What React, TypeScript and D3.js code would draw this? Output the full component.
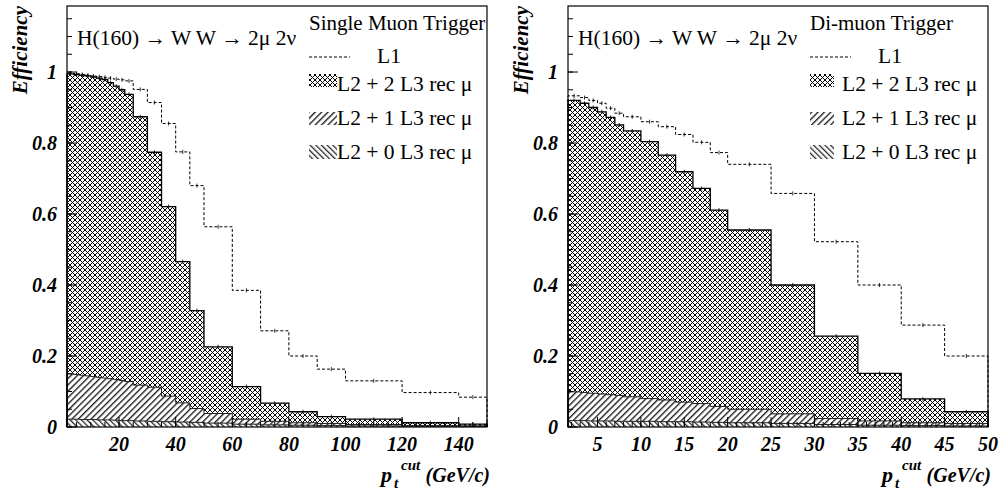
import React from "react";
import * as d3 from "d3";

// ---------- data ----------
const leftEdges = [1.6, 4, 6, 8, 10, 12, 14, 16, 18, 20, 22, 25, 30, 35, 40, 45, 50, 60, 70, 80, 90, 100, 120, 140, 150];
const leftL1 = [0.997, 0.995, 0.993, 0.991, 0.989, 0.987, 0.985, 0.983, 0.98, 0.978, 0.975, 0.951, 0.914, 0.855, 0.775, 0.68, 0.564, 0.385, 0.271, 0.2, 0.163, 0.13, 0.097, 0.084];
const leftL2L3x2 = [0.995, 0.993, 0.991, 0.989, 0.986, 0.983, 0.979, 0.97, 0.96, 0.95, 0.937, 0.874, 0.774, 0.621, 0.466, 0.328, 0.226, 0.114, 0.067, 0.043, 0.029, 0.022, 0.012, 0.008];
const leftL2L3x1 = [0.15, 0.148, 0.146, 0.144, 0.142, 0.14, 0.138, 0.136, 0.134, 0.131, 0.128, 0.118, 0.112, 0.087, 0.068, 0.052, 0.038, 0.022, 0.016, 0.012, 0.01, 0.007, 0.004, 0.003];
const leftL2L3x0 = [0.022, 0.022, 0.021, 0.021, 0.021, 0.02, 0.02, 0.02, 0.019, 0.018, 0.018, 0.017, 0.016, 0.015, 0.014, 0.013, 0.011, 0.008, 0.006, 0.005, 0.004, 0.003, 0.002, 0.002];

const rightEdges = [1.6, 3, 4, 5, 6, 7, 8, 10, 12, 14, 16, 18, 20, 25, 30, 35, 40, 45, 50];
const rightL1 = [0.933, 0.928, 0.92, 0.912, 0.898, 0.884, 0.874, 0.86, 0.846, 0.824, 0.802, 0.773, 0.74, 0.658, 0.522, 0.4, 0.287, 0.2];
const rightL2L3x2 = [0.92, 0.912, 0.9, 0.888, 0.872, 0.851, 0.834, 0.804, 0.766, 0.719, 0.672, 0.611, 0.555, 0.4, 0.256, 0.151, 0.079, 0.043];
const rightL2L3x1 = [0.099, 0.097, 0.095, 0.093, 0.091, 0.089, 0.085, 0.08, 0.076, 0.07, 0.066, 0.058, 0.05, 0.037, 0.024, 0.017, 0.012, 0.01];
const rightL2L3x0 = [0.018, 0.018, 0.017, 0.017, 0.017, 0.016, 0.016, 0.016, 0.015, 0.015, 0.014, 0.013, 0.012, 0.01, 0.007, 0.005, 0.004, 0.003];

const leftXTicks = [20, 40, 60, 80, 100, 120, 140];
const rightXTicks = [5, 10, 15, 20, 25, 30, 35, 40, 45, 50];
const yTicks = [0, 0.2, 0.4, 0.6, 0.8, 1];
const yTickLabels = ["0", "0.2", "0.4", "0.6", "0.8", "1"];

const processLabel = "H(160) \u2192 W W \u2192 2\u03bc 2\u03bd";
const legendLabels = ["L1", "L2 + 2 L3 rec \u03bc", "L2 + 1 L3 rec \u03bc", "L2 + 0 L3 rec \u03bc"];

// ---------- helpers ----------
const SERIF = "'Liberation Serif', 'Times New Roman', Times, serif";

function stepPath(edges: number[], vals: number[], x: any, y: any, close: boolean) {
  let d = `M${x(edges[0])},${y(0)}`;
  for (let i = 0; i < vals.length; i++) {
    d += `L${x(edges[i])},${y(vals[i])}L${x(edges[i + 1])},${y(vals[i])}`;
  }
  d += `L${x(edges[edges.length - 1])},${y(0)}`;
  if (close) d += "Z";
  return d;
}

type PanelProps = {
  ox: number;
  edges: number[];
  l1: number[];
  h2: number[];
  h1: number[];
  h0: number[];
  xTicks: number[];
  xMinor: number;
  title: string;
  boxW: number;
  textX: number;
};

function Panel({ ox, edges, l1, h2, h1, h0, xTicks, xMinor, title, boxW, textX }: PanelProps) {
  const x0 = 67 + ox;
  const x1 = 487 + ox;
  const top = 6;
  const bottom = 427;
  const x = d3.scaleLinear().domain([edges[0], edges[edges.length - 1]]).range([x0, x1]);
  const y = d3.scaleLinear().domain([0, 1.186]).range([bottom, top]);

  const xMinorTicks = d3.range(Math.ceil(edges[0] / xMinor) * xMinor, edges[edges.length - 1] + 1e-9, xMinor);
  const yMinorTicks = d3.range(0, 1.186, 0.05);

  const centers = edges.slice(0, -1).map((e, i) => (e + edges[i + 1]) / 2);

  const lx = 309 + ox;
  const tx = textX + ox;
  return (
    <g>
      {/* filled histograms */}
      <path d={stepPath(edges, h2, x, y, true)} fill="url(#crossHatch)" stroke="none" />
      <path d={stepPath(edges, h1, x, y, true)} fill="url(#fwdHatch)" stroke="none" />
      <path d={stepPath(edges, h0, x, y, true)} fill="url(#backHatch)" stroke="none" />
      <path d={stepPath(edges, h0, x, y, false)} fill="none" stroke="#222" strokeWidth={1} />
      <path d={stepPath(edges, h1, x, y, false)} fill="none" stroke="#222" strokeWidth={1} />
      <path d={stepPath(edges, h2, x, y, false)} fill="none" stroke="#000" strokeWidth={1.3} />
      {centers.map((c, i) => (
        <line key={"e2" + i} x1={x(c)} x2={x(c)} y1={y(h2[i]) - 2} y2={y(h2[i]) + 2} stroke="#000" strokeWidth={0.8} />
      ))}
      {/* L1 dashed */}
      <path d={stepPath(edges, l1, x, y, false)} fill="none" stroke="#000" strokeWidth={1} strokeDasharray="3,2" />
      {centers.map((c, i) => (
        <line key={"e1" + i} x1={x(c)} x2={x(c)} y1={y(l1[i]) - 2} y2={y(l1[i]) + 2} stroke="#000" strokeWidth={0.8} />
      ))}

      {/* frame */}
      <rect x={x0} y={top} width={x1 - x0} height={bottom - top} fill="none" stroke="#000" strokeWidth={1.2} />

      {/* y ticks */}
      {yMinorTicks.map((t, i) => (
        <line key={"ym" + i} x1={x0} x2={x0 + 5} y1={y(t)} y2={y(t)} stroke="#000" strokeWidth={1} />
      ))}
      {yTicks.map((t, i) => (
        <g key={"y" + i}>
          <line x1={x0} x2={x0 + 10} y1={y(t)} y2={y(t)} stroke="#000" strokeWidth={1} />
          <text x={x0 - 10} y={y(t) + 7} textAnchor="end" fontFamily={SERIF} fontWeight="bold" fontStyle="italic" fontSize={20}>
            {yTickLabels[i]}
          </text>
        </g>
      ))}
      {/* x ticks */}
      {xMinorTicks.map((t, i) => (
        <line key={"xm" + i} x1={x(t)} x2={x(t)} y1={bottom} y2={bottom - 5} stroke="#000" strokeWidth={1} />
      ))}
      {xTicks.map((t, i) => (
        <g key={"x" + i}>
          <line x1={x(t)} x2={x(t)} y1={bottom} y2={bottom - 10} stroke="#000" strokeWidth={1} />
          <text x={x(t)} y={451} textAnchor="middle" fontFamily={SERIF} fontWeight="bold" fontStyle="italic" fontSize={20}>
            {t}
          </text>
        </g>
      ))}

      {/* axis titles */}
      <text transform={`translate(${27 + ox},6) rotate(-90)`} textAnchor="end" fontFamily={SERIF} fontWeight="bold" fontStyle="italic" fontSize={21}>
        Efficiency
      </text>
      <g fontFamily={SERIF} fontWeight="bold" fontStyle="italic">
        <text x={381 + ox} y={482} fontSize={22}>p</text>
        <text x={394 + ox} y={488} fontSize={15}>t</text>
        <text x={401 + ox} y={470} fontSize={15}>cut</text>
        <text x={490 + ox} y={482} fontSize={20} textAnchor="end">(GeV/c)</text>
      </g>

      {/* labels */}
      <text x={77 + ox} y={45} fontFamily={SERIF} fontSize={21.5}>{processLabel}</text>
      <text x={lx} y={30} fontFamily={SERIF} fontSize={21}>{title}</text>
      <line x1={lx} x2={lx + 41} y1={57} y2={57} stroke="#000" strokeWidth={1} strokeDasharray="3,2" />
      <text x={377 + ox} y={63} fontFamily={SERIF} fontSize={21.5}>{legendLabels[0]}</text>
      <rect x={lx} y={74} width={boxW} height={13} fill="url(#crossHatch)" />
      <text x={tx} y={90.5} fontFamily={SERIF} fontSize={21.5}>{legendLabels[1]}</text>
      <rect x={lx} y={112} width={boxW} height={13} fill="url(#fwdHatch)" />
      <text x={tx} y={124.5} fontFamily={SERIF} fontSize={21.5}>{legendLabels[2]}</text>
      <rect x={lx} y={145} width={boxW} height={14} fill="url(#backHatch)" />
      <text x={tx} y={158.5} fontFamily={SERIF} fontSize={21.5}>{legendLabels[3]}</text>
    </g>
  );
}

export default function App() {
  return (
    <svg width={1001} height={493} style={{ position: "absolute", left: 0, top: 0, background: "#fff" }}>
      <defs>
        <pattern id="crossHatch" patternUnits="userSpaceOnUse" width={5} height={5}>
          <rect width={5} height={5} fill="#fff" />
          <path d="M0,0L5,5M5,0L0,5" stroke="#000" strokeWidth={1} shapeRendering="crispEdges" />
        </pattern>
        <pattern id="fwdHatch" patternUnits="userSpaceOnUse" width={4.5} height={4.5} patternTransform="rotate(45)">
          <rect width={4.5} height={4.5} fill="#fff" />
          <path d="M0.7,0V4.5" stroke="#000" strokeWidth={1.2} />
        </pattern>
        <pattern id="backHatch" patternUnits="userSpaceOnUse" width={4} height={4} patternTransform="rotate(-45)">
          <rect width={4} height={4} fill="#fff" />
          <path d="M0.7,0V4" stroke="#000" strokeWidth={1.1} />
        </pattern>
      </defs>
      <rect width={1001} height={493} fill="#fff" />
      <Panel ox={0} edges={leftEdges} l1={leftL1} h2={leftL2L3x2} h1={leftL2L3x1} h0={leftL2L3x0}
        xTicks={leftXTicks} xMinor={5} title="Single Muon Trigger" boxW={28} textX={337} />
      <Panel ox={501} edges={rightEdges} l1={rightL1} h2={rightL2L3x2} h1={rightL2L3x1} h0={rightL2L3x0}
        xTicks={rightXTicks} xMinor={1} title="Di-muon Trigger" boxW={24} textX={341} />
    </svg>
  );
}
